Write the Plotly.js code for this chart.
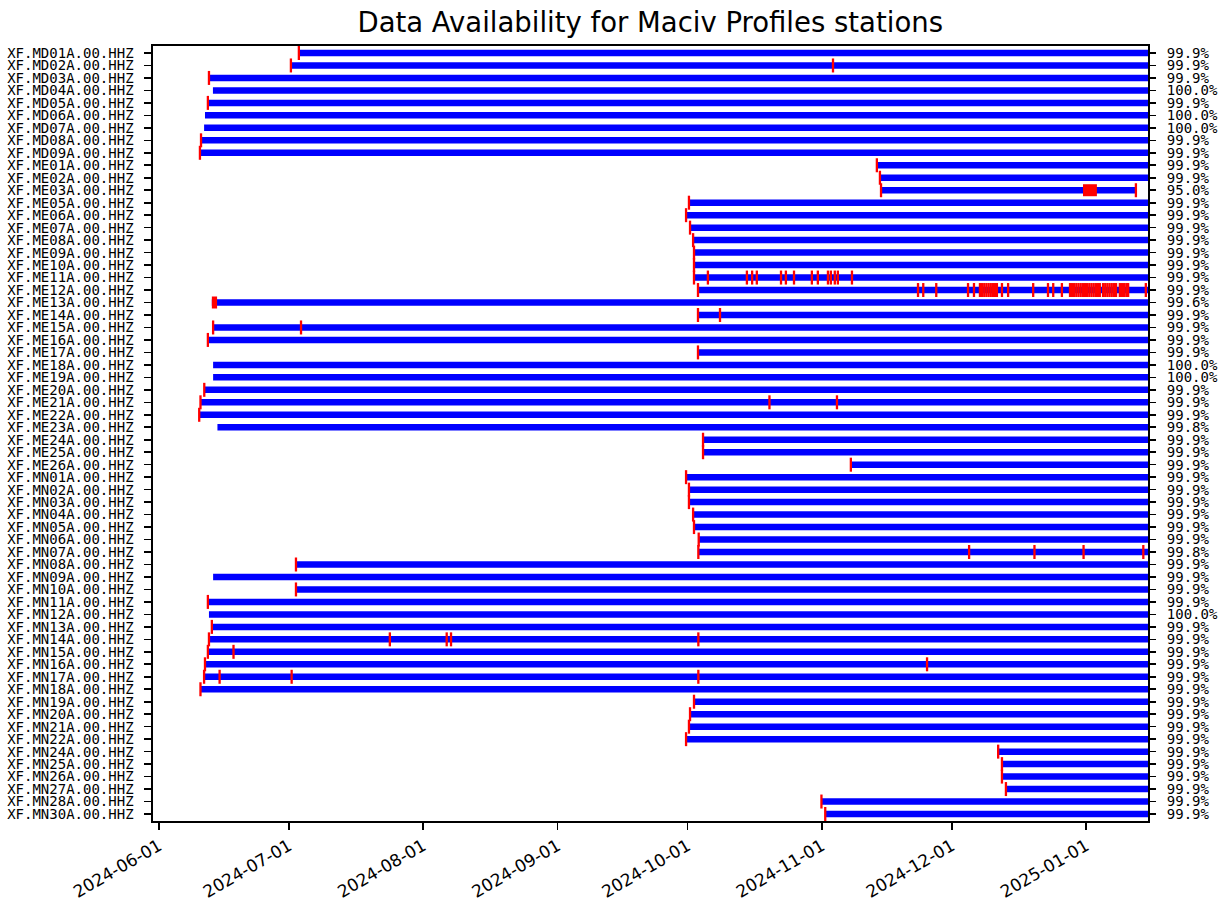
<!DOCTYPE html>
<html><head><meta charset="utf-8">
<script src="https://cdn.plot.ly/plotly-3.0.1.min.js"></script>
<style>html,body{margin:0;padding:0;background:#fff}#chart{width:1228px;height:902px}</style>
</head><body><div id="chart"></div>
<script>
const stations = ['XF.MD01A.00.HHZ','XF.MD02A.00.HHZ','XF.MD03A.00.HHZ','XF.MD04A.00.HHZ','XF.MD05A.00.HHZ','XF.MD06A.00.HHZ','XF.MD07A.00.HHZ','XF.MD08A.00.HHZ','XF.MD09A.00.HHZ',
'XF.ME01A.00.HHZ','XF.ME02A.00.HHZ','XF.ME03A.00.HHZ','XF.ME05A.00.HHZ','XF.ME06A.00.HHZ','XF.ME07A.00.HHZ','XF.ME08A.00.HHZ','XF.ME09A.00.HHZ','XF.ME10A.00.HHZ','XF.ME11A.00.HHZ','XF.ME12A.00.HHZ','XF.ME13A.00.HHZ','XF.ME14A.00.HHZ','XF.ME15A.00.HHZ','XF.ME16A.00.HHZ','XF.ME17A.00.HHZ','XF.ME18A.00.HHZ','XF.ME19A.00.HHZ','XF.ME20A.00.HHZ','XF.ME21A.00.HHZ','XF.ME22A.00.HHZ','XF.ME23A.00.HHZ','XF.ME24A.00.HHZ','XF.ME25A.00.HHZ','XF.ME26A.00.HHZ',
'XF.MN01A.00.HHZ','XF.MN02A.00.HHZ','XF.MN03A.00.HHZ','XF.MN04A.00.HHZ','XF.MN05A.00.HHZ','XF.MN06A.00.HHZ','XF.MN07A.00.HHZ','XF.MN08A.00.HHZ','XF.MN09A.00.HHZ','XF.MN10A.00.HHZ','XF.MN11A.00.HHZ','XF.MN12A.00.HHZ','XF.MN13A.00.HHZ','XF.MN14A.00.HHZ','XF.MN15A.00.HHZ','XF.MN16A.00.HHZ','XF.MN17A.00.HHZ','XF.MN18A.00.HHZ','XF.MN19A.00.HHZ','XF.MN20A.00.HHZ','XF.MN21A.00.HHZ','XF.MN22A.00.HHZ','XF.MN24A.00.HHZ','XF.MN25A.00.HHZ','XF.MN26A.00.HHZ','XF.MN27A.00.HHZ','XF.MN28A.00.HHZ','XF.MN30A.00.HHZ'];

const startTimes = ['2024-07-03 07:00','2024-07-01 11:00','2024-06-12 13:00','2024-06-13 11:00','2024-06-12 07:00','2024-06-11 15:00','2024-06-11 10:00','2024-06-10 17:00','2024-06-10 11:00',
'2024-11-13 17:00','2024-11-14 10:00','2024-11-14 16:00','2024-10-01 08:00','2024-09-30 16:00','2024-10-01 14:00','2024-10-02 07:00','2024-10-02 12:00','2024-10-02 12:00','2024-10-02 12:00','2024-10-03 10:00','2024-06-13 05:00','2024-10-03 10:00','2024-06-13 12:00','2024-06-12 07:00','2024-10-03 10:00','2024-06-13 12:00','2024-06-13 12:00','2024-06-11 11:00','2024-06-10 14:00','2024-06-10 07:00','2024-06-14 12:00','2024-10-04 14:00','2024-10-04 14:00','2024-11-07 17:00',
'2024-09-30 16:00','2024-10-01 08:00','2024-10-01 08:00','2024-10-02 07:00','2024-10-02 12:00','2024-10-03 14:00','2024-10-03 12:00','2024-07-02 15:00','2024-06-13 12:00','2024-07-02 15:00','2024-06-12 07:00','2024-06-12 13:00','2024-06-13 05:00','2024-06-12 13:00','2024-06-12 07:00','2024-06-11 15:00','2024-06-11 10:00','2024-06-10 14:00','2024-10-02 12:00','2024-10-01 14:00','2024-10-01 08:00','2024-09-30 16:00','2024-12-11 17:00','2024-12-12 14:00','2024-12-12 14:00','2024-12-13 12:00','2024-10-31 22:00','2024-11-01 19:00'];

const E = '2025-01-15 07:00';
const endTimes = [E,E,E,E,E,E,E,E,E,
E,E,'2025-01-12 18:00',E,E,E,E,E,E,E,E,E,E,E,E,E,E,E,E,E,E,E,E,E,E,
E,E,E,E,E,E,E,E,E,E,E,E,E,E,E,E,E,E,E,E,E,E,E,E,E,E,E,E];

const percentLabels = ['99.9%','99.9%','99.9%','100.0%','99.9%','100.0%','100.0%','99.9%','99.9%',
'99.9%','99.9%','95.0%','99.9%','99.9%','99.9%','99.9%','99.9%','99.9%','99.9%','99.9%','99.6%','99.9%','99.9%','99.9%','99.9%','100.0%','100.0%','99.9%','99.9%','99.9%','99.8%','99.9%','99.9%','99.9%',
'99.9%','99.9%','99.9%','99.9%','99.9%','99.9%','99.8%','99.9%','99.9%','99.9%','99.9%','100.0%','99.9%','99.9%','99.9%','99.9%','99.9%','99.9%','99.9%','99.9%','99.9%','99.9%','99.9%','99.9%','99.9%','99.9%','99.9%','99.9%'];

// short gaps (one list per station row)
const gapMarks = [
['2024-07-03 07:00'],
['2024-07-01 11:00','2024-11-03 14:00'],
['2024-06-12 13:00'],
[],
['2024-06-12 07:00'],
[],
[],
['2024-06-10 17:00'],
['2024-06-10 11:00'],
['2024-11-13 17:00'],
['2024-11-14 10:00'],
['2024-11-14 16:00','2025-01-12 12:00'],
['2024-10-01 08:00'],
['2024-09-30 16:00'],
['2024-10-01 14:00'],
['2024-10-02 07:00'],
['2024-10-02 12:00'],
['2024-10-02 12:00'],
['2024-10-02 12:00','2024-10-05 17:00','2024-10-14 17:00','2024-10-15 22:00','2024-10-17 00:00','2024-10-22 14:00','2024-10-23 17:00','2024-10-25 14:00','2024-10-29 17:00','2024-10-31 02:00','2024-11-02 10:00','2024-11-03 02:00','2024-11-04 00:00','2024-11-04 17:00','2024-11-07 23:00'],
['2024-10-03 10:00','2024-11-23 05:00','2024-11-24 10:00','2024-11-27 10:00','2024-12-04 18:00','2024-12-06 03:00','2024-12-07 12:00','2024-12-08 00:00','2024-12-08 12:00','2024-12-09 00:00','2024-12-09 12:00','2024-12-10 00:00','2024-12-10 12:00','2024-12-11 00:00','2024-12-11 10:00','2024-12-12 14:00','2024-12-14 00:00','2024-12-19 19:00','2024-12-23 05:00','2024-12-24 10:00','2024-12-26 10:00','2024-12-28 07:00','2024-12-28 18:00','2024-12-29 06:00','2024-12-29 18:00','2024-12-30 06:00','2024-12-30 18:00','2024-12-31 06:00','2024-12-31 18:00','2025-01-01 06:00','2025-01-01 18:00','2025-01-02 06:00','2025-01-02 18:00','2025-01-03 06:00','2025-01-03 18:00','2025-01-04 04:00','2025-01-04 22:00','2025-01-05 10:00','2025-01-05 22:00','2025-01-06 10:00','2025-01-06 22:00','2025-01-07 10:00','2025-01-07 22:00','2025-01-08 19:00','2025-01-09 07:00','2025-01-09 19:00','2025-01-10 07:00','2025-01-10 17:00','2025-01-14 19:00'],
[],
['2024-10-03 10:00','2024-10-08 12:00'],
['2024-06-13 12:00','2024-07-03 19:00'],
['2024-06-12 07:00'],
['2024-10-03 10:00'],
[],
[],
['2024-06-11 11:00'],
['2024-06-10 14:00','2024-10-19 22:00','2024-11-04 12:00'],
['2024-06-10 07:00'],
[],
['2024-10-04 14:00'],
['2024-10-04 14:00'],
['2024-11-07 17:00'],
['2024-09-30 16:00'],
['2024-10-01 08:00'],
['2024-10-01 08:00'],
['2024-10-02 07:00'],
['2024-10-02 12:00'],
['2024-10-03 14:00'],
['2024-10-03 12:00','2024-12-05 00:00','2024-12-20 02:00','2024-12-31 10:00','2025-01-14 05:00'],
['2024-07-02 15:00'],
[],
['2024-07-02 15:00'],
['2024-06-12 07:00'],
[],
['2024-06-13 05:00'],
['2024-06-12 13:00','2024-07-24 07:00','2024-08-06 10:00','2024-08-07 10:00','2024-10-03 12:00'],
['2024-06-12 07:00','2024-06-18 05:00'],
['2024-06-11 15:00','2024-11-25 07:00'],
['2024-06-11 10:00','2024-06-15 00:00','2024-07-01 15:00','2024-10-03 12:00'],
['2024-06-10 14:00'],
['2024-10-02 12:00'],
['2024-10-01 14:00'],
['2024-10-01 08:00'],
['2024-09-30 16:00'],
['2024-12-11 17:00'],
['2024-12-12 14:00'],
['2024-12-12 14:00'],
['2024-12-13 12:00'],
['2024-10-31 22:00'],
['2024-11-01 19:00']];

// longer gaps
const gapSpanStations = ['XF.ME03A.00.HHZ','XF.ME13A.00.HHZ'];
const gapSpanStarts = ['2024-12-31 07:00','2024-06-13 05:00'];
const gapSpanEnds = ['2025-01-03 12:00','2024-06-14 10:00'];

const tickDates = ['2024-06-01','2024-07-01','2024-08-01','2024-09-01','2024-10-01','2024-11-01','2024-12-01','2025-01-01'];
const xRange = ['2024-05-30 15:00','2025-01-15 07:00'];

const idx = stations.map((s,i)=>i);
const barX = [], barY = [];
stations.forEach((s,i)=>{ barX.push(startTimes[i], endTimes[i], null); barY.push(i,i,null); });
const markX = [], markY = [];
gapMarks.forEach((g,i)=>g.forEach(d=>{ markX.push(d); markY.push(i); }));
const spanX = [], spanY = [];
gapSpanStations.forEach((s,k)=>{ const i = stations.indexOf(s); spanX.push(gapSpanStarts[k], gapSpanEnds[k], null); spanY.push(i,i,null); });

const mono = 'DejaVu Sans Mono, monospace';
const sans = 'DejaVu Sans, sans-serif';

const traces = [
 {type:'scatter', mode:'lines', x:barX, y:barY, line:{color:'#0000ff', width:6.5}, hoverinfo:'skip', showlegend:false},
 {type:'scatter', mode:'lines', x:spanX, y:spanY, line:{color:'#ff0000', width:12}, hoverinfo:'skip', showlegend:false},
 {type:'scatter', mode:'markers', x:markX, y:markY, marker:{symbol:'line-ns', size:10, line:{color:'#ff0000', width:2.3}}, hoverinfo:'skip', showlegend:false},
 {type:'scatter', mode:'markers', x:endTimes, y:idx, yaxis:'y2', marker:{opacity:0, size:1}, hoverinfo:'skip', showlegend:false}
];

const yr = [61.56, -0.56];
const layout = {
 width:1228, height:902,
 margin:{l:153, r:80, t:46, b:81},
 paper_bgcolor:'#fff', plot_bgcolor:'#fff',
 title:{text:'Data Availability for Maciv Profiles stations', x:0.5295, xanchor:'center', y:0.975, yanchor:'middle', font:{family:sans, size:27.5, color:'#000'}},
 xaxis:{type:'date', range:xRange, tickmode:'array', tickvals:tickDates, ticktext:tickDates, tickangle:-30,
   showgrid:false, zeroline:false, showline:true, mirror:true, linecolor:'#000', linewidth:1.6,
   ticks:'outside', ticklen:7, tickwidth:1.6, tickcolor:'#000', tickfont:{family:sans, size:17, color:'#000'}},
 yaxis:{range:yr, tickmode:'array', tickvals:idx, ticktext:stations, showgrid:false, zeroline:false,
   showline:true, mirror:true, linecolor:'#000', linewidth:1.6,
   ticks:'outside', ticklen:7, tickwidth:1.6, tickcolor:'#000', ticklabelstandoff:8, tickfont:{family:mono, size:14, color:'#000'}},
 yaxis2:{overlaying:'y', side:'right', range:yr, tickmode:'array', tickvals:idx, ticktext:percentLabels, showgrid:false, zeroline:false,
   showline:false, ticks:'outside', ticklen:7, tickwidth:1.6, tickcolor:'#000', ticklabelstandoff:8, tickfont:{family:mono, size:14, color:'#000'}}
};
Plotly.newPlot('chart', traces, layout, {displayModeBar:false, staticPlot:true});
</script></body></html>
